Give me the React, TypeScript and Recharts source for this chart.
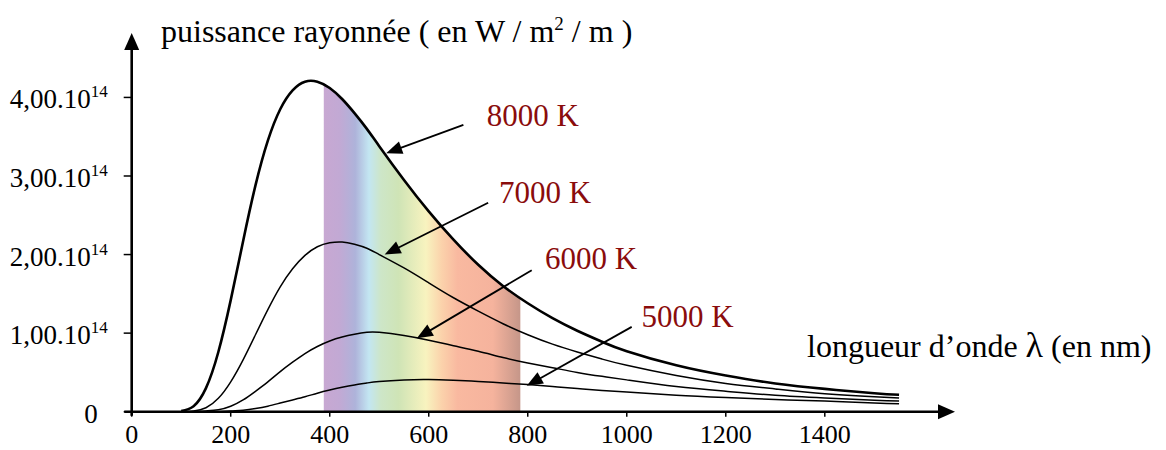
import React from "react";
import {
  ComposedChart,
  Line,
  Area,
  XAxis,
  YAxis,
  ReferenceLine,
  ReferenceDot,
} from "recharts";

// longueurs d'onde (nm) et puissance rayonnée (en 10^14 W/m²/m)
const wavelengths = [
  100, 125, 150, 175, 200, 225, 250, 275, 300, 325, 350, 375, 400, 425, 450,
  475, 500, 550, 600, 650, 700, 750, 800, 850, 900, 950, 1000, 1100, 1200,
  1300, 1400, 1500, 1550,
];
const t8000 = [
  0.01, 0.07, 0.3, 0.76, 1.42, 2.17, 2.88, 3.45, 3.85, 4.09, 4.2, 4.2, 4.12,
  3.98, 3.8, 3.6, 3.38, 2.95, 2.55, 2.19, 1.87, 1.6, 1.38, 1.19, 1.03, 0.89,
  0.77, 0.59, 0.46, 0.36, 0.29, 0.235, 0.215,
];
const t7000 = [
  0, 0.01, 0.05, 0.17, 0.38, 0.66, 0.98, 1.3, 1.59, 1.82, 1.99, 2.1, 2.15,
  2.16, 2.13, 2.08, 2.0, 1.83, 1.64, 1.45, 1.28, 1.12, 0.98, 0.86, 0.76, 0.67,
  0.59, 0.46, 0.36, 0.29, 0.23, 0.19, 0.175,
];
const t6000 = [
  0, 0, 0.01, 0.025, 0.07, 0.15, 0.26, 0.38, 0.51, 0.63, 0.74, 0.83, 0.9,
  0.95, 0.985, 1.01, 1.01, 0.97, 0.91, 0.84, 0.77, 0.69, 0.62, 0.56, 0.5, 0.45,
  0.405, 0.32, 0.26, 0.21, 0.175, 0.145, 0.135,
];
const t5000 = [
  0, 0, 0, 0, 0.01, 0.02, 0.04, 0.07, 0.11, 0.15, 0.19, 0.235, 0.275, 0.31,
  0.34, 0.365, 0.385, 0.405, 0.41, 0.4, 0.385, 0.365, 0.345, 0.32, 0.295, 0.27,
  0.25, 0.21, 0.18, 0.155, 0.135, 0.11, 0.1,
];

// bande du spectre visible (bords)
const bandEdges = [388, 785];
const bandEdgeValues = [4.15, 1.445];

const xTicks = [0, 200, 400, 600, 800, 1000, 1200, 1400];
const yTicks = [0, 1, 2, 3, 4];

const curveLabels = ["8000 K", "7000 K", "6000 K", "5000 K"];
const labelAt = [
  [717, 3.64],
  [742, 2.66],
  [835, 1.81],
  [1030, 1.08],
];
const arrowFrom = [
  [670, 3.65],
  [720, 2.66],
  [808, 1.8],
  [1010, 1.08],
];
const arrowTo = [
  [514, 3.29],
  [511, 2.0],
  [576, 0.935],
  [798, 0.33],
];

const rows = [
  ...wavelengths.map((nm, i) => ({
    nm,
    t8000: t8000[i],
    t7000: t7000[i],
    t6000: t6000[i],
    t5000: t5000[i],
    band: nm > bandEdges[0] && nm < bandEdges[1] ? t8000[i] : undefined,
  })),
  ...bandEdges.map((nm, i) => ({ nm, band: bandEdgeValues[i] })),
].sort((a, b) => a.nm - b.nm);

const FONT = '"Liberation Serif", "Times New Roman", serif';
const RED = "#8a0c0c";

const arrowShape =
  (head: number, half: number, width: number) => (p: any) => {
    const { x1, y1, x2, y2 } = p;
    const dx = x2 - x1;
    const dy = y2 - y1;
    const len = Math.hypot(dx, dy) || 1;
    const ux = dx / len;
    const uy = dy / len;
    const bx = x2 - ux * head;
    const by = y2 - uy * head;
    const nx = -uy;
    const ny = ux;
    return (
      <g>
        <line
          x1={x1}
          y1={y1}
          x2={bx + ux * 2}
          y2={by + uy * 2}
          stroke="#000"
          strokeWidth={width}
        />
        <polygon
          points={`${x2},${y2} ${bx + nx * half},${by + ny * half} ${
            bx - nx * half
          },${by - ny * half}`}
          fill="#000"
        />
      </g>
    );
  };

const XTick = (props: any) => {
  const { x, y, payload } = props;
  return (
    <text
      x={x}
      y={y + 26}
      textAnchor="middle"
      fontFamily={FONT}
      fontSize={26}
      fill="#000"
    >
      {payload.value}
    </text>
  );
};

const YTick = (props: any) => {
  const { x, y, payload } = props;
  if (payload.value === 0) {
    return (
      <text
        x={x - 26}
        y={y + 11}
        textAnchor="end"
        fontFamily={FONT}
        fontSize={27}
        fill="#000"
      >
        0
      </text>
    );
  }
  return (
    <text
      x={x - 16}
      y={y + 11}
      textAnchor="end"
      fontFamily={FONT}
      fontSize={27}
      fill="#000"
    >
      {`${payload.value},00.10`}
      <tspan dy={-11} fontSize={17}>
        14
      </tspan>
    </text>
  );
};

const CurveLabel = (text: string) => (p: any) =>
  (
    <text x={p.cx} y={p.cy} fontFamily={FONT} fontSize={31} fill={RED}>
      {text}
    </text>
  );

const App = () => {
  return (
    <div style={{ width: 1150, height: 442, position: "relative" }}>
      <ComposedChart
        width={1150}
        height={442}
        data={rows}
        margin={{ top: 25, right: 203, left: 0, bottom: 0 }}
      >
        <defs>
          <linearGradient id="spectrum" x1="0" y1="0" x2="1" y2="0">
            <stop offset="0" stopColor="#c8a8d2" />
            <stop offset="0.08" stopColor="#c2a9d4" />
            <stop offset="0.16" stopColor="#aeb3da" />
            <stop offset="0.23" stopColor="#c3e6f2" />
            <stop offset="0.29" stopColor="#cde6c8" />
            <stop offset="0.38" stopColor="#cfe4b6" />
            <stop offset="0.52" stopColor="#f8f3bf" />
            <stop offset="0.6" stopColor="#fbd2ab" />
            <stop offset="0.68" stopColor="#f9b9a0" />
            <stop offset="0.86" stopColor="#f5b39d" />
            <stop offset="1" stopColor="#c59689" />
          </linearGradient>
        </defs>
        <XAxis
          dataKey="nm"
          type="number"
          domain={[0, 1663]}
          ticks={xTicks}
          height={38.3}
          axisLine={false}
          tickSize={5}
          tickMargin={0}
          tickLine={{ stroke: "#000", strokeWidth: 1.5 }}
          tick={<XTick />}
        />
        <YAxis
          type="number"
          domain={[0, 4.82]}
          ticks={yTicks}
          width={123.7}
          axisLine={false}
          tickSize={8}
          tickMargin={0}
          tickLine={{ stroke: "#000", strokeWidth: 1.5 }}
          tick={<YTick />}
        />
        <Area
          dataKey="band"
          type="natural"
          stroke="none"
          fill="url(#spectrum)"
          fillOpacity={1}
          isAnimationActive={false}
          activeDot={false}
        />
        <Line
          dataKey="t5000"
          type="natural"
          stroke="#000"
          strokeWidth={1.5}
          dot={false}
          connectNulls
          isAnimationActive={false}
        />
        <Line
          dataKey="t6000"
          type="natural"
          stroke="#000"
          strokeWidth={1.5}
          dot={false}
          connectNulls
          isAnimationActive={false}
        />
        <Line
          dataKey="t7000"
          type="natural"
          stroke="#000"
          strokeWidth={1.5}
          dot={false}
          connectNulls
          isAnimationActive={false}
        />
        <Line
          dataKey="t8000"
          type="natural"
          stroke="#000"
          strokeWidth={2.6}
          dot={false}
          connectNulls
          isAnimationActive={false}
        />
        {/* axes avec flèches */}
        <ReferenceLine
          segment={[
            { x: -15, y: 0 },
            { x: 1663, y: 0 },
          ]}
          ifOverflow="visible"
          shape={arrowShape(17, 7.5, 2.6)}
        />
        <ReferenceLine
          segment={[
            { x: 0, y: -0.05 },
            { x: 0, y: 4.82 },
          ]}
          ifOverflow="visible"
          shape={arrowShape(17, 7.5, 2.6)}
        />
        {/* flèches vers les courbes */}
        {arrowFrom.map((from, i) => (
          <ReferenceLine
            key={`arrow-${i}`}
            segment={[
              { x: from[0], y: from[1] },
              { x: arrowTo[i][0], y: arrowTo[i][1] },
            ]}
            ifOverflow="visible"
            shape={arrowShape(16, 6.5, 1.8)}
          />
        ))}
        {curveLabels.map((text, i) => (
          <ReferenceDot
            key={text}
            x={labelAt[i][0]}
            y={labelAt[i][1]}
            ifOverflow="visible"
            shape={CurveLabel(text)}
          />
        ))}
        <text x={153} y={34} fontFamily={FONT} fontSize={32} fill="#000">
          puissance rayonnée ( en W / m
          <tspan dy={-12} fontSize={19}>
            2
          </tspan>
          <tspan dy={12}> / m )</tspan>
        </text>
        <text x={799} y={349} fontFamily={FONT} fontSize={32} fill="#000">
          longueur d’onde <tspan fontSize={36}>λ</tspan> (en nm)
        </text>
      </ComposedChart>
    </div>
  );
};

export default App;
